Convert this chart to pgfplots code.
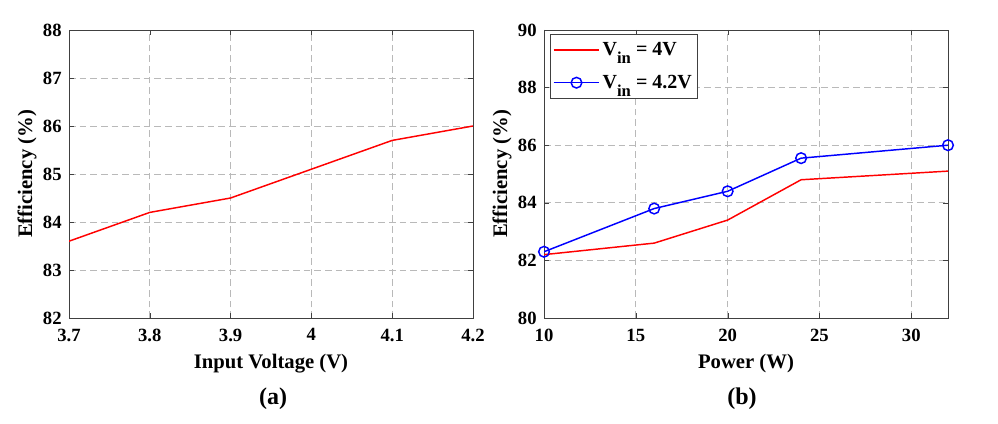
\documentclass[border=0pt]{standalone}
\usepackage{fontspec}
\setmainfont{Liberation Serif}
\usepackage{pgfplots}
\pgfplotsset{compat=1.18}

\pgfplotsset{
  mstyle/.style={
    scale only axis, width=303pt, height=216pt,
    anchor=south west,
    grid=major, grid style={dash pattern=on 5pt off 3pt, gray!55, line width=0.5pt},
    axis line style={black!75, line width=0.6pt},
    tick align=inside, major tick length=4pt,
    tick style={black!75},
    xtick pos=both, ytick pos=both,
    /pgf/number format/assume math mode=true,
    tick label style={font=\fontsize{14}{15}\selectfont\bfseries},
    xticklabel style={yshift=-4.5pt},
    yticklabel style={xshift=-2pt},
    label style={font=\fontsize{15.5}{17}\selectfont\bfseries},
    xlabel style={yshift=-3pt}, ylabel style={yshift=-2pt},
    every axis plot/.append style={line width=1.1pt},
  }
}
\newcommand{\vin}{V\raisebox{-6pt}{\fontsize{12.5}{13}\selectfont in}}

\begin{document}
\begin{tikzpicture}
\path[use as bounding box] (0,0) rectangle (748.5pt,318pt);

\begin{axis}[mstyle, at={(51.75pt,79.5pt)},
  xmin=3.7, xmax=4.2, ymin=82, ymax=88,
  xtick={3.7,3.8,3.9,4,4.1,4.2},
  xticklabels={3.7,3.8,3.9,4,4.1,4.2},
  ytick={82,83,...,88},
  xlabel={Input Voltage (V)}, ylabel={Efficiency (\%)},
]
\addplot[red, no marks] coordinates {
  (3.7,83.6) (3.8,84.2) (3.9,84.5) (4.0,85.1) (4.1,85.7) (4.2,86.0)};
\end{axis}

\begin{axis}[mstyle, at={(408pt,79.5pt)},
  xmin=10, xmax=32, ymin=80, ymax=90,
  xtick={10,15,20,25,30}, ytick={80,82,...,90},
  xlabel={Power (W)}, ylabel={Efficiency (\%)},
  legend style={font=\fontsize{15}{16}\selectfont\bfseries, draw=black!75,
    at={(0.015,0.985)}, anchor=north west,
    row sep=9pt, inner xsep=2pt, inner ysep=4pt},
  legend cell align=left,
  legend image code/.code={
    \draw[#1, line width=1.1pt] (0cm,0cm) -- (1.2cm,0cm);
    \draw[#1, line width=1.1pt, only marks] plot coordinates {(0.6cm,0cm)};},
]
\addplot[red, no marks] coordinates {
  (10,82.2) (16,82.6) (20,83.4) (24,84.8) (32,85.1)};
\addlegendentry{\vin{} = 4V}
\addplot[blue, mark=o, mark size=4pt, mark options={line width=1.1pt}] coordinates {
  (10,82.3) (16,83.8) (20,84.4) (24,85.55) (32,86.0)};
\addlegendentry{\vin{} = 4.2V}
\end{axis}

\node[font=\fontsize{18}{20}\selectfont\bfseries] at (204.75pt,19pt) {(a)};
\node[font=\fontsize{18}{20}\selectfont\bfseries] at (556.5pt,19pt) {(b)};
\end{tikzpicture}
\end{document}
